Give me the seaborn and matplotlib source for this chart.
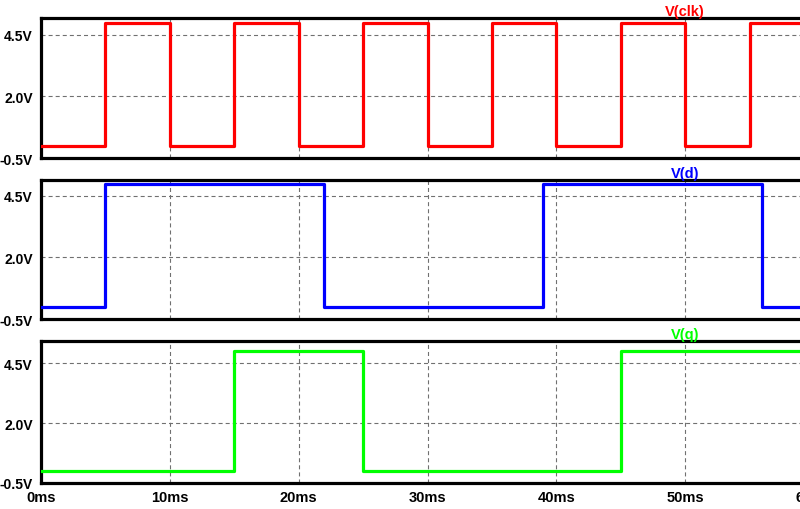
import matplotlib
matplotlib.use("Agg")
import matplotlib.pyplot as plt
import seaborn as sns

# breakpoints in ms and levels in V (step-post)
clk_t = [0, 5, 10, 15, 20, 25, 30, 35, 40, 45, 50, 55, 60]
clk_v = [0, 5, 0, 5, 0, 5, 0, 5, 0, 5, 0, 5, 5]
d_t = [0, 5, 22, 39, 56, 60]
d_v = [0, 5, 0, 5, 0, 0]
q_t = [0, 15, 25, 45, 60]
q_v = [0, 5, 0, 5, 5]

trace_names = ["V(clk)", "V(d)", "V(q)"]
trace_colors = ["#ff0000", "#0000ff", "#00ff00"]
y_ticks = [-0.5, 2.0, 4.5]
y_ticklabels = ["-0.5V", "2.0V", "4.5V"]
x_ticks = [0, 10, 20, 30, 40, 50, 60]
x_ticklabels = ["0ms", "10ms", "20ms", "30ms", "40ms", "50ms", "60ms"]

sns.set_style("white")
plt.rcParams["font.family"] = ["Liberation Sans", "DejaVu Sans"]
plt.rcParams["lines.scale_dashes"] = False

fig = plt.figure(figsize=(8, 5.1), dpi=100)

# panel boxes in pixels: (top, bottom), plus y upper limit
panels = [(19, 159, 5.19), (181, 320, 5.15), (342, 484, 5.42)]
left_px, right_px = 41, 814
W, H = 800, 510

traces = [(clk_t, clk_v), (d_t, d_v), (q_t, q_v)]

for i, ((top, bot, ytop), (t, v)) in enumerate(zip(panels, traces)):
    ax = fig.add_axes([left_px / W, 1 - bot / H, (right_px - left_px) / W, (bot - top) / H])
    sns.lineplot(x=t, y=v, ax=ax, drawstyle="steps-post", color=trace_colors[i],
                 linewidth=2.3, zorder=3)
    ax.set_xlim(0, 60)
    ax.set_ylim(-0.5, ytop)
    ax.set_yticks(y_ticks)
    ax.set_yticklabels(y_ticklabels, fontsize=10, fontweight="bold")
    ax.set_xticks(x_ticks)
    ax.grid(True, color="#707070", linestyle=(0, (2.9, 2.2)), linewidth=0.8)
    for s in ax.spines.values():
        s.set_linewidth(2.3)
        s.set_color("black")
    ax.tick_params(axis="y", length=6, width=2.3, pad=0, color="black", labelcolor="black")
    if i < 2:
        ax.tick_params(axis="x", length=0, labelbottom=False)
    else:
        ax.set_xticklabels(x_ticklabels, fontsize=10.5, fontweight="bold")
        ax.tick_params(axis="x", length=6, width=2.3, pad=-1, color="black",
                       labelcolor="black")
    ax.set_xlabel("")
    ax.set_ylabel("")
    ax.text(50, 1.0, trace_names[i], transform=ax.get_xaxis_transform(),
            ha="center", va="bottom", color=trace_colors[i], fontsize=10.5,
            fontweight="bold")

fig.savefig("out.png", dpi=100, facecolor="white")
